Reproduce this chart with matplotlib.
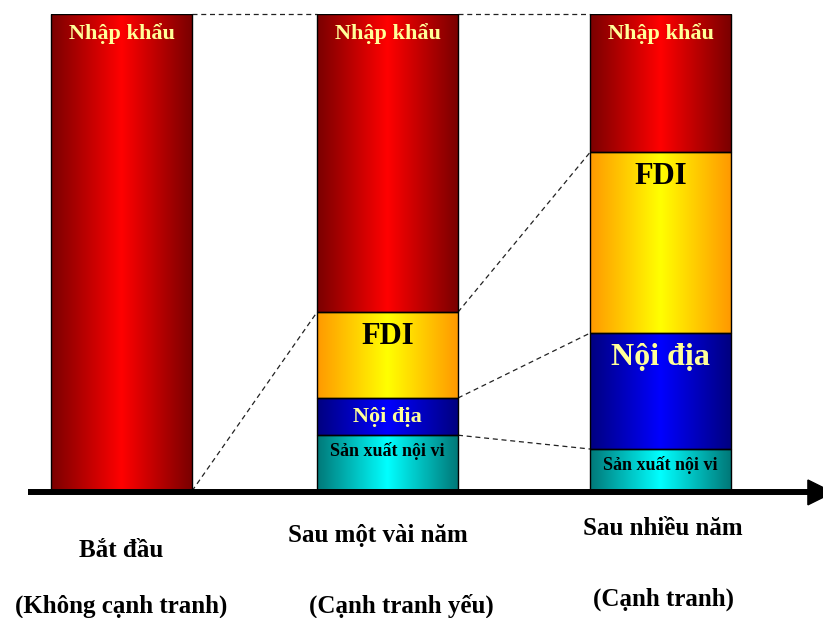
import numpy as np
import matplotlib
matplotlib.use("Agg")
import matplotlib.pyplot as plt
from matplotlib.patches import Rectangle

plt.rcParams['font.family'] = ['Liberation Serif', 'DejaVu Serif']
plt.rcParams['font.weight'] = 'bold'

# Data (share of the market, total = 100)
categories = ['Bắt đầu', 'Sau một vài năm', 'Sau nhiều năm']
subtitles = ['(Không cạnh tranh)', '(Cạnh tranh yếu)', '(Cạnh tranh)']
segment_names = ['Sản xuất nội vi', 'Nội địa', 'FDI', 'Nhập khẩu']
sx_noi_vi = [0, 11.7, 8.8]
noi_dia = [0, 7.8, 24.3]
fdi = [0, 18.0, 37.9]
nhap_khau = [100, 62.5, 29.0]

# Styles: (edge colour, centre colour, text colour)
seg_style = {
    'Sản xuất nội vi': ('#007878', '#00ffff', 'black'),
    'Nội địa': ('#000080', '#0000ff', '#ffff99'),
    'FDI': ('#ff9900', '#ffff00', 'black'),
    'Nhập khẩu': ('#7a0000', '#ff0000', '#ffff99'),
}

BAR_W = 0.523
bar_x = [0.0, 0.987, 2.0]


def gradient(edge, centre, n=256):
    e = np.array(matplotlib.colors.to_rgb(edge))
    c = np.array(matplotlib.colors.to_rgb(centre))
    t = 1 - np.abs(np.linspace(-1, 1, n))
    return (e + (c - e) * t[:, None])[None, :, :]


def label_style(name, height):
    # (font size, offset below segment top in points)
    if name == 'Nhập khẩu':
        return 16, 14.4
    if name == 'FDI':
        return 22, 17.5
    if name == 'Nội địa':
        return (16, 13.5) if height < 15 else (23, 17.5)
    return 13, 11.5


fig = plt.figure(figsize=(8.23, 6.18), dpi=100)
ax = fig.add_axes([0, 127 / 618, 1, 477 / 618])
ax.set_xlim(-0.451, 2.603)
ax.set_ylim(0, 100)
ax.axis('off')

series = [sx_noi_vi, noi_dia, fdi, nhap_khau]

for i, xc in enumerate(bar_x):
    bottom = 0
    for name, vals in zip(segment_names, series):
        h = vals[i]
        if h <= 0:
            continue
        left = xc - BAR_W / 2
        edge, centre, tcol = seg_style[name]
        ax.imshow(gradient(edge, centre), extent=(left, left + BAR_W, bottom, bottom + h),
                  aspect='auto', zorder=2, interpolation='bilinear')
        ax.add_patch(Rectangle((left, bottom), BAR_W, h, fill=False,
                               edgecolor='black', lw=1, zorder=3))
        fs, off = label_style(name, h)
        ax.annotate(name, xy=(xc, bottom + h), xytext=(0, -off), textcoords='offset points',
                    ha='center', va='center', fontsize=fs, color=tcol,
                    fontweight='bold', zorder=4)
        bottom += h

# dashed connectors between segment boundaries of neighbouring bars
levels = np.cumsum(np.array(series), axis=0)
for i in range(len(categories) - 1):
    for k in range(len(series)):
        if levels[k][i] <= 0 and k != 2:
            continue
        ax.plot([bar_x[i] + BAR_W / 2, bar_x[i + 1] - BAR_W / 2],
                [levels[k][i], levels[k][i + 1]],
                color='#222222', lw=0.9, ls=(0, (4, 3)), zorder=1, clip_on=False)

# horizontal arrow axis
ax.plot([-0.347, 2.56], [-0.25, -0.25], color='black', lw=4.3,
        solid_capstyle='butt', clip_on=False, zorder=5)
ax.fill([2.547, 2.64, 2.547], [2.3, -0.3, -2.9], color='black',
        clip_on=False, zorder=5)

# category labels under the axis
cat_y = [-12.4, -9.4, -7.8]
sub_y = [-24.1, -24.1, -22.8]
cat_x = [0.0, 0.952, 2.01]
sub_x = [0.0, 1.04, 2.01]
for i in range(len(categories)):
    ax.text(cat_x[i], cat_y[i], categories[i], ha='center', va='center',
            fontsize=18, fontweight='bold', clip_on=False)
    ax.text(sub_x[i], sub_y[i], subtitles[i], ha='center', va='center',
            fontsize=18, fontweight='bold', clip_on=False)

fig.savefig('out.png', dpi=100)
